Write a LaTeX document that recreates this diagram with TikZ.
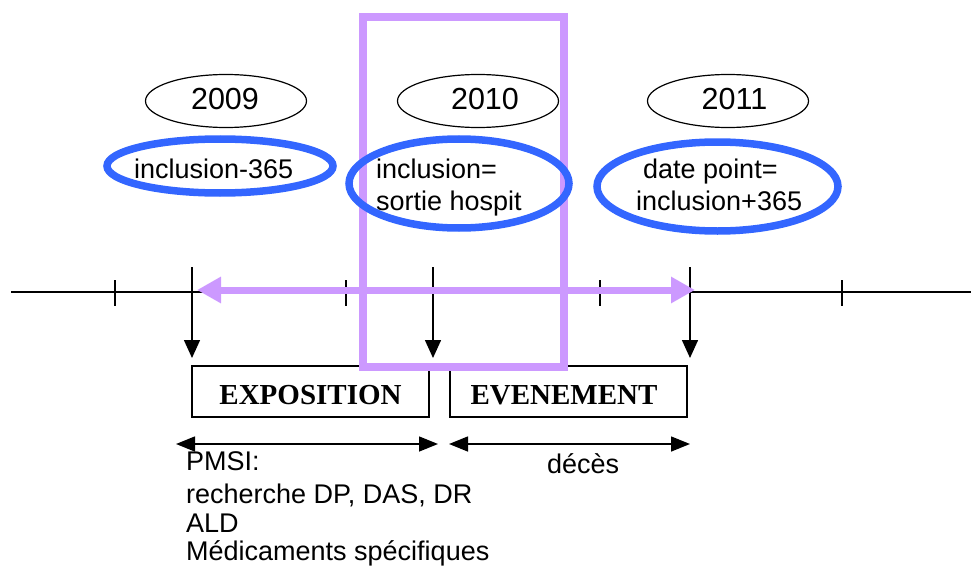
\documentclass[tikz,border=0pt]{standalone}
\usepackage{fontspec}
\setmainfont{Liberation Sans}
\newfontfamily\boxfont{Liberation Serif}
\usetikzlibrary{arrows.meta,shapes.geometric}
\definecolor{lila}{RGB}{204,153,255}
\definecolor{bleu}{RGB}{51,102,255}
\begin{document}
\begin{tikzpicture}[x=1pt,y=-1pt,
  txt/.style={inner sep=0pt,font=\fontsize{27}{32}\selectfont},
  yeartxt/.style={inner sep=0pt,anchor=base,font=\fontsize{30.5}{36}\selectfont},
  boxtxt/.style={inner sep=0pt,anchor=base,font=\fontsize{29}{34}\boxfont\bfseries},
  yearell/.style={draw=black,line width=1.2pt,ellipse,inner sep=0pt,minimum width=161pt,minimum height=53pt},
  blueell/.style={draw=bleu,line width=7.5pt,ellipse,inner sep=0pt},
  phase/.style={draw=black,line width=1.5pt,rectangle,inner sep=0pt,minimum width=237pt,minimum height=51pt},
  blk/.style={draw=black,line width=1.5pt},
  blkarrow/.style={blk,-{Triangle[length=18pt,width=16pt]}},
  blkdouble/.style={blk,{Triangle[length=19pt,width=15pt]}-{Triangle[length=19pt,width=15pt]}},
  lilaarrow/.style={draw=lila,line width=7pt,{Triangle[length=24pt,width=25pt]}-{Triangle[length=24pt,width=25pt]}}
]
\useasboundingbox (0,0) rectangle (971,567);

% timeline
\coordinate (tl0) at (11,292);
\coordinate (tl1) at (971,292);
\draw[blk] (tl0) -- (tl1);
% small ticks
\foreach \x/\n in {115/s1,346/s2,600/s3,842/s4}{
  \coordinate (\n a) at (\x,280);
  \coordinate (\n b) at (\x,306);
  \draw[blk] (\n a) -- (\n b);
}
% long ticks with arrows
\coordinate (ta1) at (192,267); \coordinate (tb1) at (192,358);
\coordinate (ta2) at (433,267); \coordinate (tb2) at (433,358);
\coordinate (ta3) at (690,267); \coordinate (tb3) at (690,358);
\draw[blkarrow] (ta1) -- (tb1);
\draw[blkarrow] (ta2) -- (tb2);
\draw[blkarrow] (ta3) -- (tb3);

% year ellipses
\node[yearell] (e2009) at (226,101) {};
\node[yearell] (e2010) at (478,101) {};
\node[yearell] (e2011) at (728,101) {};
\node[yeartxt] (y2009) at (225,110) {2009};
\node[yeartxt] (y2010) at (485,110) {2010};
\node[yeartxt] (y2011) at (734.5,110) {2011};

% phase boxes
\node[phase] (expo) at (310.5,391.5) {};
\node[phase] (even) at (568.5,391.5) {};
\node[boxtxt] (expot) at (310.5,404) {EXPOSITION};
\node[boxtxt] (event) at (564,404) {EVENEMENT};

% lower double arrows
\coordinate (la1) at (176,444); \coordinate (la2) at (438,444);
\coordinate (lb1) at (449,444); \coordinate (lb2) at (690,444);
\draw[blkdouble] (la1) -- (la2);
\draw[blkdouble] (lb1) -- (lb2);

% lower texts
\node[txt,anchor=base west] (p1) at (186,470) {PMSI:};
\node[txt,anchor=base west] (p2) at (186,503) {recherche DP, DAS, DR};
\node[txt,anchor=base west] (p3) at (186,532) {ALD};
\node[txt,anchor=base west] (p4) at (186,560) {Médicaments spécifiques};
\node[txt,anchor=base west] (dc) at (547,473) {décès};

% purple rectangle and arrow
\node[draw=lila,line width=8pt,rectangle,inner sep=0pt,minimum width=201pt,minimum height=350pt] (focus) at (463.5,192) {};
\coordinate (pa1) at (197,290); \coordinate (pa2) at (695,290);
\draw[lilaarrow] (pa1) -- (pa2);

% blue ellipses
\node[blueell,minimum width=226pt,minimum height=54pt] (b1) at (220,166) {};
\node[blueell,minimum width=220pt,minimum height=89pt] (b2) at (459,183.5) {};
\node[blueell,minimum width=241pt,minimum height=89pt] (b3) at (717.5,186.5) {};
\node[txt,anchor=base west] (t1) at (134,178) {inclusion-365};
\node[txt,anchor=base west] (t2a) at (376,178) {inclusion=};
\node[txt,anchor=base west] (t2b) at (376,210) {sortie hospit};
\node[txt,anchor=base west] (t3a) at (643,178) {date point=};
\node[txt,anchor=base west] (t3b) at (636,210) {inclusion+365};
\end{tikzpicture}
\end{document}
